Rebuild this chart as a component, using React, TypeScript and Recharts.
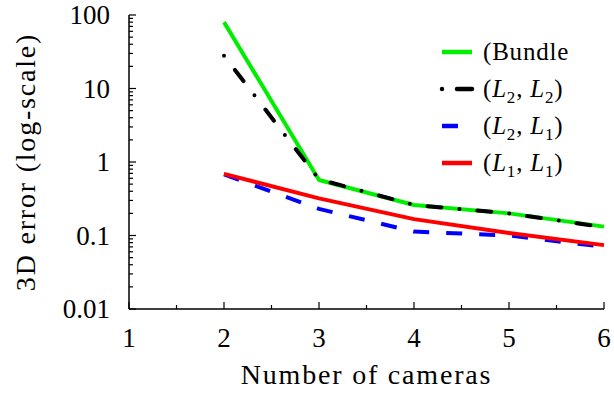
import { LineChart, Line, XAxis, YAxis, Label } from 'recharts';

const CAMERAS = [2, 3, 4, 5, 6];
const BUNDLE = [80, 0.57, 0.26, 0.2, 0.132];
const L2_L2 = [28, 0.58, 0.26, 0.2, 0.13];
const L2_L1 = [0.68, 0.23, 0.113, 0.1, 0.07];
const L1_L1 = [0.69, 0.32, 0.167, 0.108, 0.074];

const X_MAJOR = [1, 2, 3, 4, 5, 6];
const X_MINOR = [1.5, 2.5, 3.5, 4.5, 5.5];
const Y_MAJOR = [0.01, 0.1, 1, 10, 100];
const Y_LABELS = ['0.01', '0.1', '1', '10', '100'];

const X_TICKS = [...X_MAJOR, ...X_MINOR].sort((a, b) => a - b);
const Y_TICKS = Y_MAJOR.flatMap((m, i) =>
  i === Y_MAJOR.length - 1 ? [m] : [m, 2, 3, 4, 5, 6, 7, 8, 9].map((k, j) => (j === 0 ? m : +(m * k).toPrecision(3)))
);

const DATA = CAMERAS.map((c, i) => ({
  x: c,
  bundle: BUNDLE[i],
  l2l2: L2_L2[i],
  l2l1: L2_L1[i],
  l1l1: L1_L1[i],
}));

type Seg = { t: string; it?: boolean; sub?: boolean };

const SERIES: { key: string; color: string; dash?: string; cap: 'round' | 'butt'; label: Seg[] }[] = [
  { key: 'bundle', color: '#00ee00', cap: 'butt', label: [{ t: '(Bundle' }] },
  {
    key: 'l2l2',
    color: '#000000',
    dash: '0 18 14 18',
    cap: 'round',
    label: [{ t: '(' }, { t: 'L', it: true }, { t: '2', sub: true }, { t: ', ' }, { t: 'L', it: true }, { t: '2', sub: true }, { t: ')' }],
  },
  {
    key: 'l2l1',
    color: '#0000ff',
    dash: '16 17',
    cap: 'butt',
    label: [{ t: '(' }, { t: 'L', it: true }, { t: '2', sub: true }, { t: ', ' }, { t: 'L', it: true }, { t: '1', sub: true }, { t: ')' }],
  },
  {
    key: 'l1l1',
    color: '#ff0000',
    cap: 'butt',
    label: [{ t: '(' }, { t: 'L', it: true }, { t: '1', sub: true }, { t: ', ' }, { t: 'L', it: true }, { t: '1', sub: true }, { t: ')' }],
  },
];

const FONT = "'Liberation Serif', 'DejaVu Serif', serif";
const FRAME = { stroke: '#000', strokeWidth: 1.5 };

const isMajorY = (v: number) => Y_MAJOR.some((m) => Math.abs(v - m) < m * 1e-6);
const isMajorX = (v: number) => X_MAJOR.includes(v);

function LeftTick(props: any) {
  const { x, y, payload } = props;
  const major = isMajorY(payload.value);
  const idx = Y_MAJOR.findIndex((m) => Math.abs(payload.value - m) < m * 1e-6);
  return (
    <g>
      <line x1={x} x2={x + (major ? 7 : 4)} y1={y} y2={y} stroke="#000" strokeWidth={1.2} />
      {major && (
        <text x={x - 19} y={y} dy="0.35em" textAnchor="end" style={{ fontFamily: FONT, fontSize: 27 }} fill="#000">
          {Y_LABELS[idx]}
        </text>
      )}
    </g>
  );
}

function RightTick(props: any) {
  const { x, y, payload } = props;
  const major = isMajorY(payload.value);
  return <line x1={x} x2={x - (major ? 7 : 4)} y1={y} y2={y} stroke="#000" strokeWidth={1.2} />;
}

function BottomTick(props: any) {
  const { x, y, payload } = props;
  const major = isMajorX(payload.value);
  return (
    <g>
      <line x1={x} x2={x} y1={y} y2={y - (major ? 7 : 4)} stroke="#000" strokeWidth={1.2} />
      {major && (
        <text x={x} y={y + 38} textAnchor="middle" style={{ fontFamily: FONT, fontSize: 27 }} fill="#000">
          {payload.value}
        </text>
      )}
    </g>
  );
}

function TopTick(props: any) {
  const { x, y, payload } = props;
  const major = isMajorX(payload.value);
  return <line x1={x} x2={x} y1={y} y2={y + (major ? 7 : 4)} stroke="#000" strokeWidth={1.2} />;
}

function ChartLegend() {
  return (
    <svg width={614} height={396} style={{ position: 'absolute', left: 0, top: 0, pointerEvents: 'none' }}>
      {SERIES.map((s, i) => {
        const cy = 52 + i * 37;
        return (
          <g key={s.key}>
            <line
              x1={442}
              x2={472}
              y1={cy}
              y2={cy}
              stroke={s.color}
              strokeWidth={4.5}
              strokeDasharray={s.key === 'l2l2' ? '0 15 15 30' : s.dash}
              strokeLinecap={s.cap}
            />
            <text x={483} y={cy + 8} style={{ fontFamily: FONT, fontSize: 25, letterSpacing: 0.8 }} fill="#000">
              {s.label.map((seg, j) => {
                const prev = s.label[j - 1];
                const dy = seg.sub ? 6 : prev && prev.sub ? -6 : 0;
                return (
                  <tspan key={j} dy={dy} style={{ fontStyle: seg.it ? 'italic' : 'normal', fontSize: seg.sub ? 17 : 25 }}>
                    {seg.t}
                  </tspan>
                );
              })}
            </text>
          </g>
        );
      })}
    </svg>
  );
}

export default function App() {
  return (
    <div style={{ position: 'absolute', left: 0, top: 0, width: 614, height: 396, background: '#fff', fontFamily: FONT }}>
      <LineChart width={614} height={396} data={DATA} margin={{ top: 15, right: 10, bottom: 0, left: 0 }}>
        <XAxis
          xAxisId="b"
          type="number"
          dataKey="x"
          domain={[1, 6]}
          ticks={X_TICKS}
          height={87}
          tickSize={0}
          tickMargin={0}
          tickLine={false}
          axisLine={FRAME}
          tick={<BottomTick />}
          interval={0}
        >
          <Label
            content={() => (
              <text x={366.5} y={384} textAnchor="middle" style={{ fontFamily: FONT, fontSize: 28, letterSpacing: 1.8 }} fill="#000">
                Number of cameras
              </text>
            )}
          />
        </XAxis>
        <XAxis
          xAxisId="t"
          orientation="top"
          type="number"
          dataKey="x"
          domain={[1, 6]}
          ticks={X_TICKS}
          height={0}
          tickSize={0}
          tickMargin={0}
          tickLine={false}
          axisLine={FRAME}
          tick={<TopTick />}
          interval={0}
        />
        <YAxis
          yAxisId="l"
          scale="log"
          domain={[0.01, 100]}
          allowDataOverflow
          ticks={Y_TICKS}
          width={129}
          tickSize={0}
          tickMargin={0}
          tickLine={false}
          axisLine={FRAME}
          tick={<LeftTick />}
          interval={0}
        >
          <Label
            content={() => (
              <text
                x={35}
                y={162}
                transform="rotate(-90 35 162)"
                textAnchor="middle"
                style={{ fontFamily: FONT, fontSize: 28, letterSpacing: 1.8 }}
                fill="#000"
              >
                3D error (log-scale)
              </text>
            )}
          />
        </YAxis>
        <YAxis
          yAxisId="r"
          orientation="right"
          scale="log"
          domain={[0.01, 100]}
          allowDataOverflow
          ticks={Y_TICKS}
          width={0}
          tickSize={0}
          tickMargin={0}
          tickLine={false}
          axisLine={FRAME}
          tick={<RightTick />}
          interval={0}
        />
        {SERIES.map((s) => (
          <Line
            key={s.key}
            xAxisId="b"
            yAxisId="l"
            type="linear"
            dataKey={s.key}
            stroke={s.color}
            strokeWidth={4}
            strokeDasharray={s.dash}
            strokeLinecap={s.cap}
            strokeLinejoin="round"
            dot={false}
            activeDot={false}
            isAnimationActive={false}
          />
        ))}
      </LineChart>
      <ChartLegend />
    </div>
  );
}
